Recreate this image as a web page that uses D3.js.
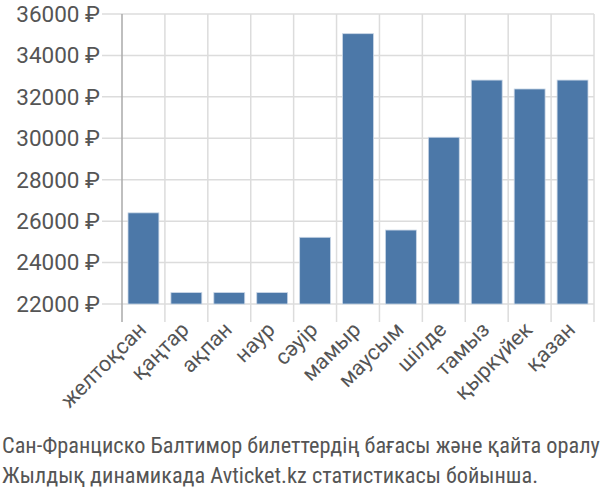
<!DOCTYPE html>
<html><head><meta charset="utf-8">
<script src="https://cdn.jsdelivr.net/npm/d3@7"></script>
<style>body{margin:0;background:#fff}svg{display:block}</style>
</head><body>
<svg id="c" width="600" height="500"></svg>
<script>
const months = ["желтоқсан","қаңтар","ақпан","наур","сәуір","мамыр","маусым","шілде","тамыз","қыркүйек","қазан"];
const prices = [26400, 22550, 22550, 22550, 25220, 35050, 25570, 30050, 32810, 32380, 32810];
const yTicks = [22000, 24000, 26000, 28000, 30000, 32000, 34000, 36000];
const titleLines = ["Сан-Франциско Балтимор билеттердің бағасы және қайта оралу","Жылдық динамикада Avticket.kz статистикасы бойынша."];

const svg = d3.select("#c");
const m = {left:122, right:594, top:14, bottom:304};
const x = d3.scaleBand().domain(months).range([m.left, m.right]).paddingInner(0.28).paddingOuter(0.14);
const xb = d3.scaleBand().domain(months).range([m.left, m.right]);
const y = d3.scaleLinear().domain([22000, 36000]).range([m.bottom, m.top]);
const font = "Roboto, sans-serif";
const grid = "#dcdcdc";

svg.append("g").selectAll("line").data(yTicks).join("line")
  .attr("x1", 102).attr("x2", m.right)
  .attr("y1", d=>y(d)).attr("y2", d=>y(d))
  .attr("stroke", grid).attr("stroke-width", 1.5);
const vx = months.map(d=>xb(d)).slice(1).concat([m.right]);
svg.append("g").selectAll("line").data(vx).join("line")
  .attr("x1", d=>d).attr("x2", d=>d)
  .attr("y1", m.top).attr("y2", 322)
  .attr("stroke", grid).attr("stroke-width", 1.5);
svg.append("line").attr("x1", m.left).attr("x2", m.left).attr("y1", m.top).attr("y2", 322)
  .attr("stroke", "#aaa").attr("stroke-width", 1.5);

svg.append("g").selectAll("rect").data(months).join("rect")
  .attr("x", d=>x(d)).attr("width", x.bandwidth())
  .attr("y", (d,i)=>y(prices[i])).attr("height", (d,i)=>y(22000)-y(prices[i]))
  .attr("fill", "#4c78a8").attr("stroke", "#c9d6e6").attr("stroke-width", 0.8);

svg.append("g").selectAll("text").data(yTicks).join("text")
  .attr("x", 100).attr("y", d=>y(d)).attr("dy", "0.35em")
  .attr("text-anchor", "end").attr("fill", "#555")
  .style("font-family", font).style("font-size", "22.5px")
  .text(d=>d + " ₽");

svg.append("g").selectAll("text").data(months).join("text")
  .attr("transform", d=>`translate(${x(d)+x.bandwidth()/2+4},${331}) rotate(-45)`)
  .attr("text-anchor", "end").attr("fill", "#555")
  .style("font-family", font).style("font-size", "21.5px")
  .text(d=>d);

svg.append("g").selectAll("text").data(titleLines).join("text")
  .attr("x", 2).attr("y", (d,i)=>453 + i*30)
  .attr("fill", "#555")
  .style("font-family", "'Liberation Sans Narrow', 'Roboto Condensed', sans-serif").style("font-size", "22.3px")
  .text(d=>d);
</script>
</body></html>
